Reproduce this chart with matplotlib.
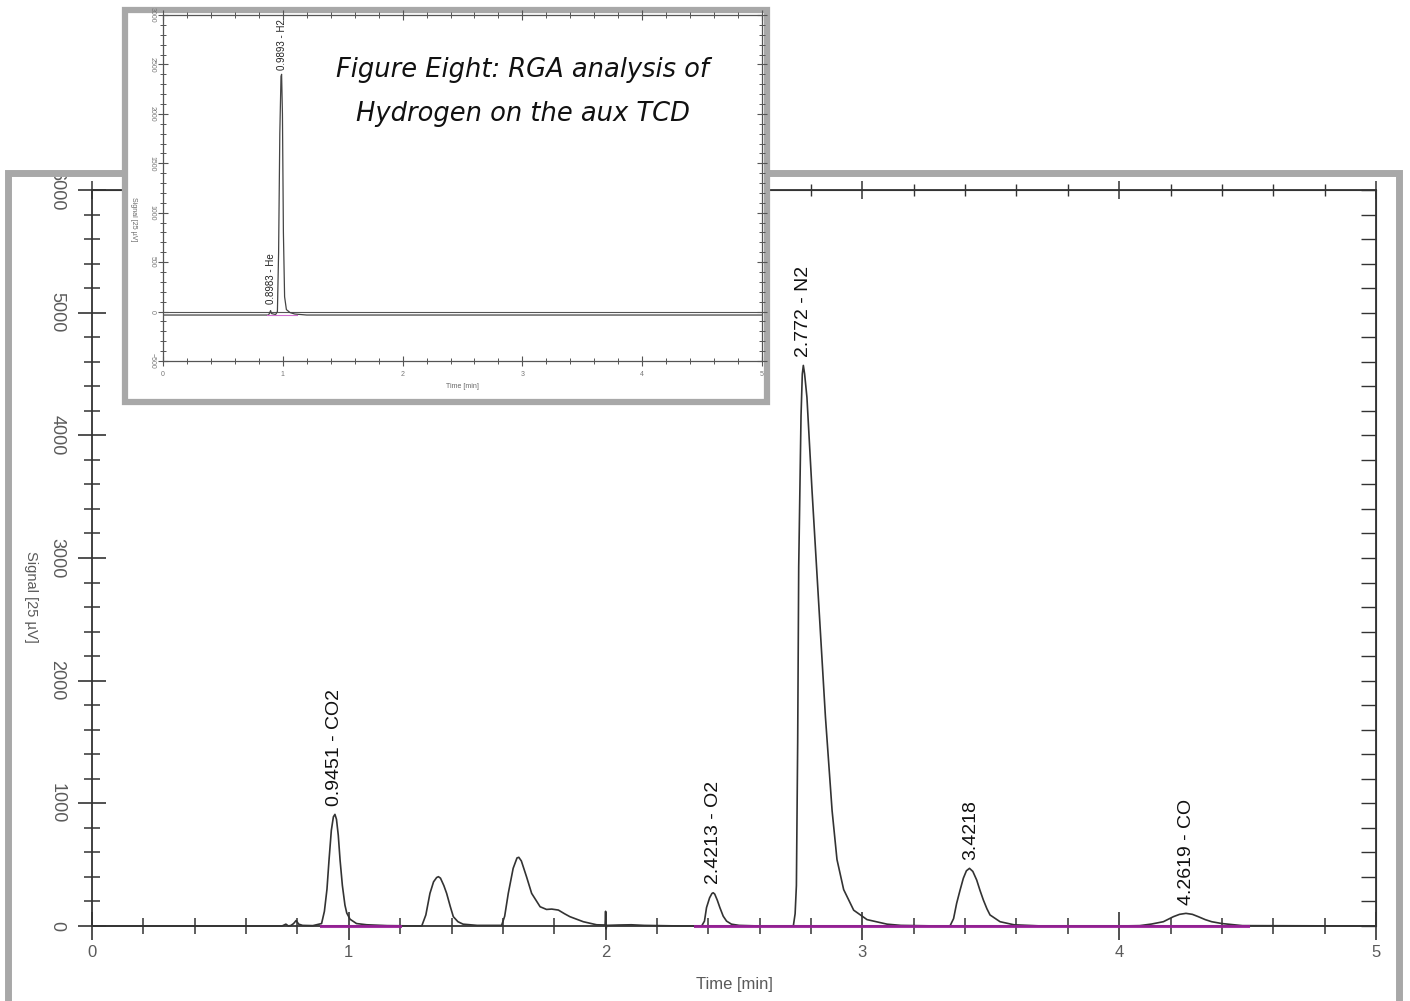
import numpy as np
import matplotlib
matplotlib.use('Agg')
import matplotlib.pyplot as plt
from matplotlib.patches import Rectangle
from matplotlib.ticker import MultipleLocator, NullFormatter

plt.rcParams['font.family'] = ['Liberation Sans', 'DejaVu Sans']

# main chromatogram (time in min, signal in 25 uV units)
time_main = [0.0, 0.74, 0.755, 0.765, 0.775, 0.785, 0.795, 0.805, 0.82, 0.86,
             0.894, 0.905, 0.915, 0.923, 0.932, 0.940, 0.946, 0.952, 0.959, 0.966,
             0.975, 0.985, 0.992, 1.005, 1.03, 1.07, 1.15,
             1.284, 1.30, 1.316, 1.33, 1.342, 1.349, 1.357, 1.37, 1.381, 1.395,
             1.407, 1.425, 1.445, 1.50,
             1.595, 1.607, 1.621, 1.64, 1.655, 1.662, 1.672, 1.692, 1.712, 1.745,
             1.77, 1.79, 1.816, 1.84, 1.861, 1.913, 1.965,
             1.998, 2.0, 2.002, 2.004, 2.05, 2.1, 2.15, 2.3,
             2.374, 2.385, 2.393, 2.405, 2.414, 2.419, 2.425, 2.435, 2.445, 2.458,
             2.471, 2.49, 2.52, 2.6,
             2.731, 2.738, 2.743, 2.748, 2.752, 2.757, 2.761, 2.766, 2.770, 2.775,
             2.784, 2.804, 2.830, 2.856, 2.882, 2.901, 2.927, 2.966, 3.018, 3.096,
             3.15, 3.3,
             3.341, 3.355, 3.367, 3.38, 3.393, 3.405, 3.417, 3.43, 3.445, 3.458,
             3.471, 3.485, 3.497, 3.536, 3.59, 3.7,
             4.0, 4.08, 4.126, 4.172, 4.211, 4.235, 4.26, 4.285, 4.308, 4.335,
             4.36, 4.40, 4.48, 5.0]
signal_main = [0, 0, 15, 0, 5, 20, 45, 15, 5, 3,
               20, 120, 300, 538, 780, 890, 910, 870, 740, 538,
               330, 170, 106, 55, 20, 10, 3,
               0, 90, 266, 360, 395, 402, 390, 330, 266, 160,
               76, 35, 15, 5,
               5, 80, 266, 470, 555, 560, 530, 402, 266, 157,
               135, 138, 130, 100, 76, 35, 10,
               8, 120, -25, 5, 8, 10, 5, 0,
               0, 40, 150, 230, 265, 271, 260, 210, 150, 80,
               40, 15, 5, 0,
               0, 100, 330, 1500, 2930, 3600, 4160, 4500, 4570, 4500,
               4310, 3544, 2625, 1706, 940, 542, 297, 129, 52, 15,
               5, 0,
               0, 60, 185, 290, 389, 450, 470, 445, 375, 290,
               212, 140, 90, 35, 10, 0,
               0, 3, 16, 35, 76, 95, 103, 95, 76, 52,
               35, 20, 3, 0]

peak_times = [0.9451, 2.4213, 2.772, 3.4218, 4.2619]
peak_heights = [910, 271, 4570, 470, 103]
peak_labels = ['0.9451 - CO2', '2.4213 - O2', '2.772 - N2', '3.4218', '4.2619 - CO']

# integration baselines (magenta)
baseline_segments = [(0.89, 1.2), (2.35, 4.5)]

# inset: hydrogen on the aux TCD
time_inset = [0.0, 0.88, 0.89, 0.898, 0.905, 0.94, 0.955, 0.965, 0.975, 0.985,
              0.99, 0.997, 1.005, 1.015, 1.03, 1.06, 1.1, 1.2, 5.0]
signal_inset = [-35, -35, -15, 10, -20, -30, 0, 600, 1800, 2380,
                2400, 2000, 800, 150, 20, -10, -25, -35, -35]
inset_peak_times = [0.8983, 0.9893]
inset_peak_heights = [40, 2400]
inset_peak_labels = ['0.8983 - He', '0.9893 - H2']

W, H = 1410, 1001
fig = plt.figure(figsize=(W / 100, H / 100), dpi=100)
fig.patch.set_facecolor('white')

def fx(px):
    return px / W

def fy(py):
    return 1 - py / H

frame_gray = '#a8a8a8'
tick_gray = '#5a5a5a'
line_col = '#333333'

# ---- main chart
ax = fig.add_axes([fx(92), fy(926), fx(1376) - fx(92), fy(190) - fy(926)])
ax.set_zorder(1)
ax.plot(time_main, signal_main, color=line_col, lw=1.2, clip_on=False, zorder=2)
for a, b in baseline_segments:
    ax.plot([a, b], [0, 0], color='#9a1f9a', lw=2.2, alpha=0.9, zorder=4,
            clip_on=False)
for t, h, lab in zip(peak_times, peak_heights, peak_labels):
    ax.text(t, h + 70, lab, rotation=90, ha='center', va='bottom',
            fontsize=14, color='#111111')

ax.set_xlim(0, 5)
ax.set_ylim(0, 6000)
ax.xaxis.set_major_locator(MultipleLocator(1))
ax.xaxis.set_minor_locator(MultipleLocator(0.2))
ax.yaxis.set_major_locator(MultipleLocator(1000))
ax.yaxis.set_minor_locator(MultipleLocator(200))
ax.tick_params(which='both', direction='inout', top=False, right=False,
               color=line_col, labelcolor=tick_gray)
ax.tick_params(which='major', length=20, width=1.2)
ax.tick_params(which='minor', length=11, width=1.1)
ax.tick_params(axis='x', pad=4, labelsize=12)
ax.tick_params(axis='y', labelrotation=-90, pad=9, labelsize=13)
for lbl in ax.get_yticklabels():
    lbl.set_va('center')
for s in ax.spines.values():
    s.set_color(line_col)
    s.set_linewidth(1.3)
ax.set_xlabel('Time [min]', fontsize=12, color=tick_gray, labelpad=12)
ax.set_ylabel('Signal [25 µV]', fontsize=10.5, color=tick_gray, rotation=-90,
              va='top', labelpad=8)
ax.yaxis.label.set_y(0.447)

# top and right tick rows
top = ax.secondary_xaxis('top')
top.xaxis.set_major_locator(MultipleLocator(1))
top.xaxis.set_minor_locator(MultipleLocator(0.2))
top.xaxis.set_major_formatter(NullFormatter())
top.tick_params(which='both', direction='inout', color=line_col)
top.tick_params(which='major', length=13, width=1.1)
top.tick_params(which='minor', length=9, width=1.0)
top.spines['top'].set_color(line_col)

right = ax.secondary_yaxis('right')
right.yaxis.set_major_locator(MultipleLocator(1000))
right.yaxis.set_minor_locator(MultipleLocator(200))
right.yaxis.set_major_formatter(NullFormatter())
right.tick_params(which='both', direction='in', color=line_col, length=11,
                  width=1.0)
right.spines['right'].set_color(line_col)

# gray frame around main chart
fig.add_artist(Rectangle((fx(8), fy(1030)), fx(1399) - fx(8), fy(173) - fy(1030),
                         transform=fig.transFigure, fill=False,
                         edgecolor=frame_gray, lw=5, zorder=3))

# ---- inset frame
fig.add_artist(Rectangle((fx(125), fy(402)), fx(767) - fx(125), fy(10) - fy(402),
                         transform=fig.transFigure, facecolor='white',
                         edgecolor=frame_gray, lw=4.5, zorder=5))

ax2 = fig.add_axes([fx(163), fy(361), fx(762) - fx(163), fy(15) - fy(361)])
ax2.set_zorder(6)
ax2.patch.set_alpha(0)
ax2.axhline(0, color='#555555', lw=0.8)
ax2.plot(time_inset, signal_inset, color='#444444', lw=0.9)
ax2.plot([0.87, 1.12], [-35, -35], color='#d070d0', lw=0.8)
for t, h, lab in zip(inset_peak_times, inset_peak_heights, inset_peak_labels):
    ax2.text(t, h + 40, lab, rotation=90, ha='center', va='bottom',
             fontsize=7, color='#222222')
ax2.set_xlim(0, 5)
ax2.set_ylim(-500, 3000)
ax2.xaxis.set_major_locator(MultipleLocator(1))
ax2.xaxis.set_minor_locator(MultipleLocator(0.2))
ax2.yaxis.set_major_locator(MultipleLocator(500))
ax2.yaxis.set_minor_locator(MultipleLocator(100))
ax2.tick_params(which='both', direction='inout', top=True, right=True,
                color='#555555', labelcolor='#777777', labelsize=5)
ax2.tick_params(which='major', length=7, width=0.8)
ax2.tick_params(which='minor', length=4, width=0.7)
ax2.tick_params(axis='y', labelrotation=-90, pad=2)
for lbl in ax2.get_yticklabels():
    lbl.set_va('center')
for s in ax2.spines.values():
    s.set_color('#555555')
    s.set_linewidth(0.9)
ax2.set_xlabel('Time [min]', fontsize=5, color='#666666', labelpad=4)
ax2.set_ylabel('Signal [25 µV]', fontsize=5, color='#666666', rotation=-90,
               va='top', labelpad=8)
ax2.yaxis.label.set_y(0.41)

fig.text(fx(523), fy(92), 'Figure Eight: RGA analysis of\nHydrogen on the aux TCD',
         ha='center', va='center', fontsize=18.5, style='italic',
         family=['DejaVu Sans'], color='#111111',
         linespacing=1.9, zorder=7)

fig.savefig('out.png', dpi=100)
